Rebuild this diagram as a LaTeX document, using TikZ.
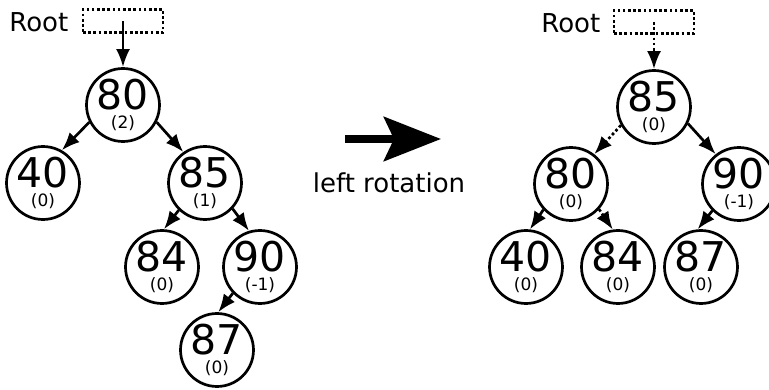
\documentclass[tikz,border=0pt]{standalone}
\usepackage{fontspec}
\setmainfont{DejaVu Sans}
\usetikzlibrary{arrows.meta}

\begin{document}
\begin{tikzpicture}[x=1pt,
            y=-1pt,
            >={Latex[length=18pt,width=14pt]},
            line width=2.7pt,
            avl/.style={circle, draw, minimum size=72pt, inner sep=0pt,
                        align=center, font=\fontsize{17}{18.5}\selectfont},
            rootbox/.style={draw, dash pattern=on 2.7pt off 2.5pt,
                            minimum width=80pt, minimum height=23pt, inner sep=0pt},
            rootname/.style={anchor=base west, inner sep=0pt,
                             font=\fontsize{26}{31}\selectfont},
            link/.style={->},
            moved/.style={->, dash pattern=on 2.7pt off 2.5pt}]

        \useasboundingbox (0,0) rectangle (769,390);

        % before: unbalanced at 80
        \node[rootname]       (lroot) at (8,32)    {Root};
        \node[rootbox]        (lbox)  at (123,21)  {};
        \node[avl]            (l80)   at (123,105) {{\fontsize{41}{41}\selectfont 80}\\(2)};
        \node[avl]            (l40)   at (43,183)  {{\fontsize{41}{41}\selectfont 40}\\(0)};
        \node[avl]            (l85)   at (205,183) {{\fontsize{41}{41}\selectfont 85}\\(1)};
        \node[avl]            (l84)   at (162,267) {{\fontsize{41}{41}\selectfont 84}\\(0)};
        \node[avl]            (l90)   at (260,267) {{\fontsize{41}{41}\selectfont 90}\\(-1)};
        \node[avl]            (l87)   at (217,350) {{\fontsize{41}{41}\selectfont 87}\\(0)};

        \draw[link] (lbox.center) -- (l80);
        \draw[link] (l80.-153) -- (l40.60);
        \draw[link] (l80.-27)  -- (l85.125);
        \draw[link] (l85.-134) -- (l84.87);
        \draw[link] (l85.-43)  -- (l90.107);
        \draw[link] (l90.-136) -- (l87.88);

        % the rotation
        \coordinate (turnfrom) at (345,139);
        \coordinate (turnto)   at (441,139);
        \draw[line width=8pt, -{Stealth[length=57pt,width=44pt,inset=10pt]}]
            (turnfrom) -- (turnto);
        \node[font=\fontsize{26}{31}\selectfont] (turntext) at (389,183) {left rotation};

        % after: 85 is the new root
        \node[rootname]       (rroot) at (540,33)  {Root};
        \node[rootbox]        (rbox)  at (654,22)  {};
        \node[avl]            (r85)   at (654,107) {{\fontsize{41}{41}\selectfont 85}\\(0)};
        \node[avl]            (r80)   at (571,184) {{\fontsize{41}{41}\selectfont 80}\\(0)};
        \node[avl]            (r90)   at (739,184) {{\fontsize{41}{41}\selectfont 90}\\(-1)};
        \node[avl]            (r40)   at (526,267) {{\fontsize{41}{41}\selectfont 40}\\(0)};
        \node[avl]            (r84)   at (618,267) {{\fontsize{41}{41}\selectfont 84}\\(0)};
        \node[avl]            (r87)   at (701,267) {{\fontsize{41}{41}\selectfont 87}\\(0)};

        \draw[moved] (rbox.center) -- (r85);
        \draw[moved] (r85.-151) -- (r80.52);
        \draw[link]  (r85.-26)  -- (r90.128);
        \draw[link]  (r80.-137) -- (r40.84);
        \draw[moved] (r80.-42)  -- (r84.98);
        \draw[link]  (r90.-135) -- (r87.95);

    \end{tikzpicture}
\end{document}
